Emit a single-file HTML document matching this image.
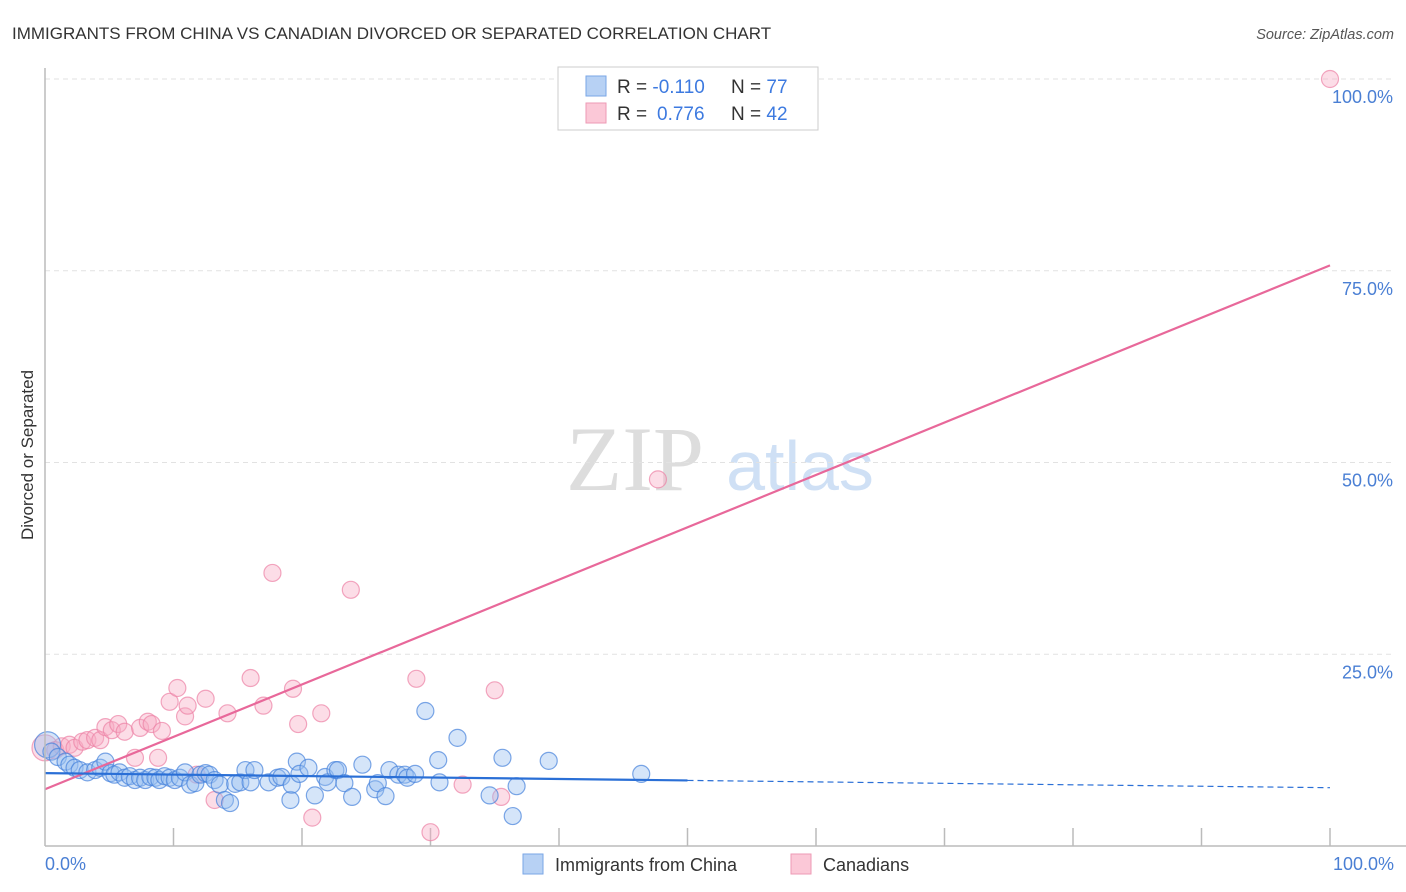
<!DOCTYPE html>
<html><head><meta charset="utf-8"><style>
body{margin:0;background:#fff;font-family:"Liberation Sans",sans-serif}
svg{display:block}
</style></head><body>
<svg id="c" width="1406" height="892">
<text x="12" y="39" font-size="17" fill="#333">IMMIGRANTS FROM CHINA VS CANADIAN DIVORCED OR SEPARATED CORRELATION CHART</text>
<text x="1394" y="39" font-size="14.5" fill="#555" font-style="italic" text-anchor="end">Source: ZipAtlas.com</text>
<text transform="translate(33,455) rotate(-90)" font-size="17" fill="#333" text-anchor="middle">Divorced or Separated</text>
<g>
<text x="635" y="490" font-size="92" font-family="Liberation Serif,serif" fill="#ddd" text-anchor="middle">ZIP</text>
<text x="800" y="490" font-size="70" fill="#cfe0f5" text-anchor="middle">atlas</text>
</g>
<g id="grid"></g><g id="ticks"></g><g id="pts"></g><g id="lines"></g>
<line x1="45" y1="68" x2="45" y2="846" stroke="#bbb" stroke-width="1.5"/>
<line x1="45" y1="846" x2="1406" y2="846" stroke="#bbb" stroke-width="1.5"/>
<text x="45" y="870" font-size="18" fill="#4a7fd4">0.0%</text>
<text x="1394" y="870" font-size="18" fill="#4a7fd4" text-anchor="end">100.0%</text>
<g>
<rect x="558" y="67" width="260" height="63" fill="#fff" stroke="#ccc"/>
<rect x="586" y="76" width="20" height="20" fill="#b7d1f4" stroke="#7aa6e6"/>
<rect x="586" y="103" width="20" height="20" fill="#fbc8d7" stroke="#ee9ab4"/>
<text x="617" y="93" font-size="19" fill="#333">R = <tspan fill="#3d7ae0">-0.110</tspan><tspan x="731">N = </tspan><tspan fill="#3d7ae0">77</tspan></text>
<text x="617" y="120" font-size="19" fill="#333">R = <tspan x="657" fill="#3d7ae0">0.776</tspan><tspan x="731">N = </tspan><tspan fill="#3d7ae0">42</tspan></text>
</g>
<g>
<rect x="523" y="854" width="20" height="20" fill="#b7d1f4" stroke="#7aa6e6"/>
<text x="555" y="871" font-size="18" fill="#333">Immigrants from China</text>
<rect x="791" y="854" width="20" height="20" fill="#fbc8d7" stroke="#ee9ab4"/>
<text x="823" y="871" font-size="18" fill="#333">Canadians</text>
</g>
</svg>
<script>
const yTicks=[25,50,75,100];
const yTickLabels=["25.0%","50.0%","75.0%","100.0%"];
const xTicks=[10,20,30,40,50,60,70,80,90,100];
const blueX=[0.2,0.5,1.0,1.6,1.9,2.3,2.7,3.3,3.9,4.3,4.7,5.1,5.4,5.8,6.2,6.6,7.0,7.4,7.8,8.2,8.6,8.9,9.3,9.7,10.1,10.5,10.9,11.3,11.7,12.1,12.5,12.8,13.2,13.6,14.0,14.4,14.8,15.2,15.6,16.0,16.3,17.4,18.1,18.4,19.1,19.2,19.6,19.8,20.5,21.0,21.8,22.0,22.6,22.8,23.3,23.9,24.7,25.7,25.9,26.5,26.8,27.5,28.0,28.2,28.8,29.6,30.6,30.7,32.1,34.6,35.6,36.4,36.7,39.2,46.4];
const blueY=[13.2,12.3,11.6,11.0,10.6,10.2,9.9,9.6,9.9,10.2,11.0,9.5,9.3,9.6,8.9,9.1,8.6,8.9,8.6,9.0,8.9,8.6,9.1,8.9,8.6,8.9,9.6,8.0,8.2,9.3,9.5,9.3,8.6,8.0,6.0,5.6,8.1,8.3,9.9,8.3,9.9,8.3,8.9,9.0,6.0,8.0,11.0,9.4,10.2,6.6,9.0,8.3,9.9,9.9,8.2,6.4,10.6,7.4,8.2,6.5,9.9,9.3,9.3,8.9,9.4,17.6,11.2,8.3,14.1,6.6,11.5,3.9,7.8,11.1,9.4];
const pinkX=[0,0.8,1.3,1.9,2.3,2.9,3.3,3.9,4.3,4.7,5.2,5.7,6.2,7.0,7.4,8.0,8.3,8.8,9.1,9.7,10.3,10.9,11.1,11.8,12.5,13.2,14.2,16.0,17.0,17.7,19.3,19.7,20.8,21.5,23.8,28.9,30.0,32.5,35.0,35.5,47.7,100];
const pinkY=[12.8,12.5,13.0,13.2,12.8,13.6,13.8,14.1,13.8,15.5,15.1,15.9,14.9,11.5,15.4,16.2,15.9,11.5,15.0,18.8,20.6,16.9,18.3,9.3,19.2,6.0,17.3,21.9,18.3,35.6,20.5,15.9,3.7,17.3,33.4,21.8,1.8,8.0,20.3,6.4,47.8,100];
const blueFit=[9.5,-0.019]; // intercept, slope
const pinkFit=[7.4,0.683];
const X=v=>45+v*12.85, Y=v=>846-v*7.67;
const NS="http://www.w3.org/2000/svg";
function mk(p,t,a){const e=document.createElementNS(NS,t);for(const k in a)e.setAttribute(k,a[k]);document.getElementById(p).appendChild(e);return e;}
yTicks.forEach((t,i)=>{
 const l=mk('grid','line',{x1:45,x2:1395,y1:Y(t),y2:Y(t),stroke:'#e2e2e2','stroke-dasharray':'5,4'});
 
 
 const tx=mk('grid','text',{x:1393,y:Y(t)+24,'font-size':18,fill:'#4a7fd4','text-anchor':'end'});
 tx.textContent=yTickLabels[i];
 
 
});
xTicks.forEach(t=>{
 const l=mk('ticks','line',{x1:X(t),x2:X(t),y1:828,y2:846,stroke:'#bbb','stroke-width':1.5});
 
 
});
pinkX.forEach((v,i)=>{
 const c=mk('pts','circle',{cx:X(v),cy:Y(pinkY[i]),r:i==0?13:8.5,fill:'rgba(248,170,195,0.4)',stroke:'rgba(236,130,165,0.7)','stroke-width':1.2});
 
 
});
blueX.forEach((v,i)=>{
 const c=mk('pts','circle',{cx:X(v),cy:Y(blueY[i]),r:i==0?13:8.5,fill:'rgba(150,190,240,0.4)',stroke:'rgba(70,130,220,0.7)','stroke-width':1.2});
 
 
});
let l=mk('lines','line',{x1:X(0),y1:Y(pinkFit[0]),x2:X(100),y2:Y(pinkFit[0]+pinkFit[1]*100),stroke:'#e8689a','stroke-width':2.2});


l=mk('lines','line',{x1:X(0),y1:Y(blueFit[0]),x2:X(50),y2:Y(blueFit[0]+blueFit[1]*50),stroke:'#2a6fd6','stroke-width':2.2});


l=mk('lines','line',{x1:X(50),y1:Y(blueFit[0]+blueFit[1]*50),x2:X(100),y2:Y(blueFit[0]+blueFit[1]*100),stroke:'#2a6fd6','stroke-width':1.2,'stroke-dasharray':'6,4'});


</script>
</body></html>
